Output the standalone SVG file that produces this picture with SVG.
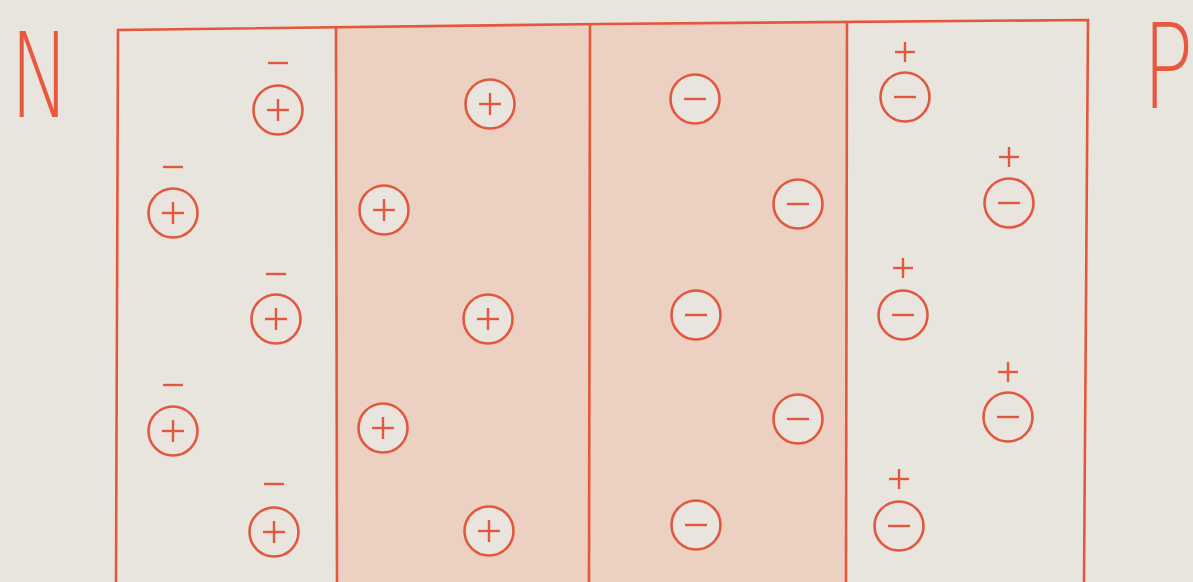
<svg xmlns="http://www.w3.org/2000/svg" width="1193" height="582" viewBox="0 0 1193 582">
<defs>
<style>
.ln{stroke:#e4573c;stroke-width:2.6;fill:none;stroke-linecap:butt}
.ion{stroke:#e2583f;stroke-width:2.6}
.sg{stroke:#e2583f;stroke-width:2.4}
.lbl{font-family:"DejaVu Sans",sans-serif;font-weight:200;font-size:118px;fill:#e8583e}
</style>
<g id="pos">
<circle r="24.5" class="ion" fill="#e9e4de"/>
<line x1="-11" y1="0" x2="11" y2="0" class="sg"/>
<line x1="0" y1="-11" x2="0" y2="11" class="sg"/>
</g>
<g id="neg">
<circle r="24.5" class="ion" fill="#e9e4de"/>
<line x1="-11" y1="0" x2="11" y2="0" class="sg"/>
</g>
<line id="mbar" x1="-10" y1="0" x2="10" y2="0" class="sg"/>
<g id="pbar">
<line x1="-10" y1="0" x2="10" y2="0" class="sg"/>
<line x1="0" y1="-10" x2="0" y2="10" class="sg"/>
</g>
</defs>
<rect width="1193" height="582" fill="#e8e5df"/>
<g id="depletion-fill">
<polygon points="336,28 847,22 847,582 336,582" fill="#ecd1c3"/>
</g>
<g id="frame">
<polyline class="ln" points="116,582 118,30 600,24 1088,20 1084,582"/>
<line class="ln" x1="336" y1="28" x2="337" y2="582"/>
<line class="ln" x1="590" y1="24" x2="589" y2="582"/>
<line class="ln" x1="847" y1="22" x2="846" y2="582"/>
</g>
<g id="label-N"><text class="lbl" x="40" y="117" text-anchor="middle" transform="translate(40 0) scale(0.68 1) translate(-40 0)">N</text></g>
<g id="label-P"><text class="lbl" x="1168" y="108" text-anchor="middle" transform="translate(1168 0) scale(0.72 1) translate(-1168 0)">P</text></g>
<g id="n-region">
<use href="#mbar" x="278" y="63"/><use href="#pos" x="278" y="110"/>
<use href="#mbar" x="173" y="167"/><use href="#pos" x="173" y="213"/>
<use href="#mbar" x="276" y="274"/><use href="#pos" x="276" y="319"/>
<use href="#mbar" x="173" y="385"/><use href="#pos" x="173" y="431"/>
<use href="#mbar" x="274" y="484"/><use href="#pos" x="274" y="532"/>
</g>
<g id="depletion-n">
<use href="#pos" x="490" y="104"/>
<use href="#pos" x="384" y="210"/>
<use href="#pos" x="488" y="319"/>
<use href="#pos" x="383" y="428"/>
<use href="#pos" x="489" y="531"/>
</g>
<g id="depletion-p">
<use href="#neg" x="695" y="99"/>
<use href="#neg" x="798" y="204"/>
<use href="#neg" x="696" y="315"/>
<use href="#neg" x="798" y="419"/>
<use href="#neg" x="696" y="525"/>
</g>
<g id="p-region">
<use href="#pbar" x="905" y="52"/><use href="#neg" x="905" y="97"/>
<use href="#pbar" x="1009" y="157"/><use href="#neg" x="1009" y="203"/>
<use href="#pbar" x="903" y="268"/><use href="#neg" x="903" y="315"/>
<use href="#pbar" x="1008" y="372"/><use href="#neg" x="1008" y="417"/>
<use href="#pbar" x="899" y="479"/><use href="#neg" x="899" y="526"/>
</g>
</svg>
